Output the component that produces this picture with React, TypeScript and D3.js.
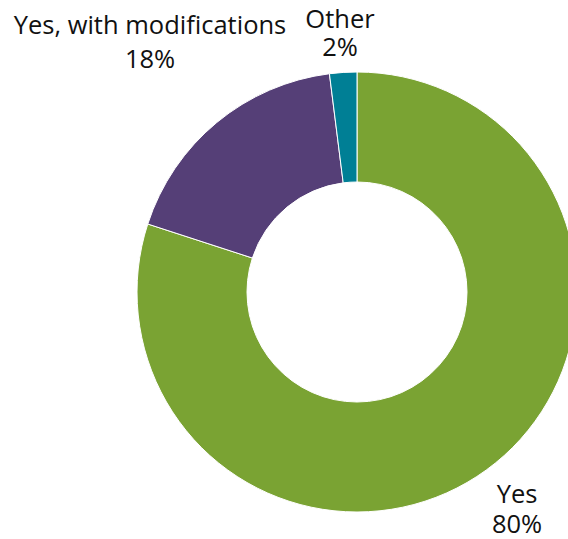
import React from "react";
import * as d3 from "d3";

const categories = ["Yes", "Yes, with modifications", "Other"];
const values = [80, 18, 2];
const labels = ["80%", "18%", "2%"];
const colors = ["#7AA333", "#553F77", "#007F95"];

const W = 568, H = 539;
const cx = 357, cy = 292, R = 220, r = 110;

// label anchor positions (centre x, first baseline y, second baseline y)
const labelPos: [number, number, number][] = [
  [517, 503, 533],
  [150, 34, 68],
  [340, 28, 56],
];

export default function App() {
  const pie = d3.pie<number>().sort(null).value((d) => d);
  const arcs = pie(values);
  const arc = d3.arc<d3.PieArcDatum<number>>().innerRadius(r).outerRadius(R);
  return (
    <svg
      width={W}
      height={H}
      style={{ position: "absolute", left: 0, top: 0 }}
    >
      <g transform={`translate(${cx},${cy})`}>
        {arcs.map((a, i) => (
          <path key={i} d={arc(a) || ""} fill={colors[i]} stroke="#fff" strokeWidth={1} />
        ))}
      </g>
      {categories.map((c, i) => (
        <text
          key={c}
          textAnchor="middle"
          fontFamily="'Open Sans', sans-serif"
          fontSize={25.5}
          fill="#111"
        >
          <tspan x={labelPos[i][0]} y={labelPos[i][1]}>{c}</tspan>
          <tspan x={labelPos[i][0]} y={labelPos[i][2]}>{labels[i]}</tspan>
        </text>
      ))}
    </svg>
  );
}
